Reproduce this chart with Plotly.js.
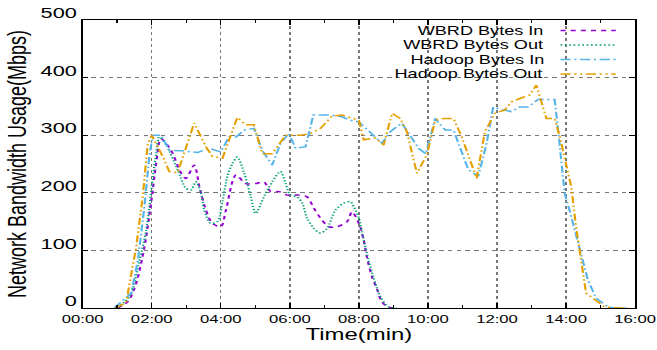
<!DOCTYPE html>
<html><head><meta charset="utf-8">
<script src="https://cdn.plot.ly/plotly-3.0.1.min.js"></script>
<style>
html,body{margin:0;padding:0;background:#fff;overflow:hidden;width:657px;height:350px}
#chart{width:460px;height:350px;transform:scaleX(1.45);transform-origin:0 0}
</style>
</head><body><div id="chart"></div>
<script>
const seriesNames = ["WBRD Bytes In", "WBRD Bytes Out", "Hadoop Bytes In", "Hadoop Bytes Out"];
const seriesColors = ["#9400d3", "#009e73", "#56b4e9", "#e69f00"];
const seriesDash = ["3.5px,3.5px", "1.2px,1.8px", "7px,2.5px,1.5px,2.5px", "7px,2.5px,1.5px,2.5px,1.5px,2.5px"];

const wbrdInT = [1.0, 1.31, 1.55, 1.79, 1.98, 2.13, 2.27, 2.56, 2.85, 2.99, 3.23, 3.38, 3.57, 3.76, 4.00, 4.15, 4.44, 4.72, 5.01, 5.25, 5.45, 5.69, 5.93, 6.26, 6.50, 6.70, 6.89, 7.13, 7.37, 7.66, 7.80, 8.00, 8.14, 8.23, 8.38, 8.52, 8.66, 8.86, 9.0];
const wbrdInV = [0, 11, 43, 106, 182, 251, 294, 274, 234, 225, 248, 211, 170, 147, 141, 170, 231, 216, 216, 219, 202, 202, 196, 196, 193, 173, 156, 141, 141, 150, 167, 147, 118, 89, 54, 34, 11, 1, 0];

const wbrdOutT = [1.0, 1.36, 1.65, 1.84, 2.03, 2.13, 2.22, 2.42, 2.75, 2.99, 3.14, 3.28, 3.42, 3.52, 3.71, 3.90, 4.05, 4.19, 4.34, 4.48, 4.68, 4.87, 5.01, 5.25, 5.49, 5.73, 5.88, 6.02, 6.21, 6.36, 6.50, 6.70, 6.89, 7.08, 7.32, 7.56, 7.75, 7.85, 8.00, 8.14, 8.28, 8.43, 8.62, 8.86, 9.10];
const wbrdOutV = [0, 20, 83, 135, 225, 268, 297, 283, 240, 208, 205, 219, 202, 170, 147, 150, 185, 228, 251, 262, 234, 193, 164, 193, 219, 237, 216, 196, 193, 182, 156, 138, 130, 138, 170, 182, 185, 176, 156, 118, 83, 52, 20, 2, 0];

const hadoopInT = [0.92, 1.41, 1.60, 1.79, 1.93, 2.03, 2.27, 2.51, 2.85, 3.33, 3.67, 4.00, 4.24, 4.44, 4.68, 4.96, 5.20, 5.49, 5.73, 5.97, 6.17, 6.46, 6.68, 7.18, 7.51, 7.75, 8.00, 8.38, 8.67, 8.91, 9.24, 9.48, 9.73, 9.94, 10.21, 10.50, 10.74, 11.17, 11.46, 11.70, 11.89, 12.17, 12.42, 12.66, 12.90, 13.19, 13.67, 13.77, 13.96, 14.10, 14.34, 14.63, 14.87, 15.21, 15.40, 15.8];
const hadoopInV = [0, 26, 83, 176, 263, 300, 300, 274, 273, 270, 277, 271, 297, 297, 309, 312, 274, 248, 286, 303, 277, 280, 335, 335, 332, 326, 323, 303, 286, 306, 321, 300, 277, 268, 329, 309, 309, 240, 229, 286, 349, 344, 341, 349, 349, 362, 362, 309, 199, 170, 112, 49, 17, 2, 0, 0];

const hadoopOutT = [0.95, 1.26, 1.55, 1.74, 1.88, 2.00, 2.32, 2.51, 2.75, 3.23, 3.57, 3.76, 4.05, 4.48, 4.72, 4.96, 5.20, 5.49, 5.88, 6.31, 6.60, 6.89, 7.22, 7.51, 8.00, 8.14, 8.48, 8.72, 8.96, 9.20, 9.39, 9.68, 9.97, 10.21, 10.45, 10.74, 10.98, 11.41, 11.65, 11.94, 12.23, 12.42, 12.95, 13.14, 13.43, 13.67, 13.82, 14.06, 14.15, 14.29, 14.44, 14.58, 14.78, 15.11, 15.50, 15.8];
const hadoopOutV = [0, 9, 106, 193, 283, 300, 263, 237, 235, 321, 280, 263, 260, 331, 318, 318, 268, 268, 300, 300, 303, 312, 333, 335, 326, 292, 295, 283, 338, 329, 306, 234, 266, 326, 329, 329, 297, 225, 306, 338, 344, 358, 370, 387, 329, 329, 297, 240, 211, 141, 78, 26, 17, 2, 0, 0];

const xTickVals = [0, 2, 4, 6, 8, 10, 12, 14, 16];
const xTickText = ["00:00", "02:00", "04:00", "06:00", "08:00", "10:00", "12:00", "14:00", "16:00"];
const yTickVals = [0, 100, 200, 300, 400, 500];

const xs = [wbrdInT, wbrdOutT, hadoopInT, hadoopOutT];
const ys = [wbrdInV, wbrdOutV, hadoopInV, hadoopOutV];
const shapesKind = ["spline", "spline", "linear", "linear"];

const FONT = "Liberation Sans, Arial, Helvetica, sans-serif";

const traces = seriesNames.map((n, i) => ({
  type: "scatter", mode: "lines", name: n, x: xs[i], y: ys[i],
  line: {color: seriesColors[i], width: 1.5, dash: seriesDash[i], shape: shapesKind[i], smoothing: 0.8},
  showlegend: false, hoverinfo: "skip"
}));

const shapes = [{type: "rect", xref: "paper", yref: "paper", x0: 0.48, x1: 0.99, y0: 0.78, y1: 1.0,
  fillcolor: "#fff", line: {width: 0}, layer: "between"}];
const annotations = [];
const rowY = [0.9635, 0.9132, 0.8628, 0.8125];
seriesNames.forEach((n, i) => {
  annotations.push({xref: "paper", yref: "paper", x: 0.84, y: rowY[i], xanchor: "right", yanchor: "middle",
    text: n, showarrow: false,
    font: {family: FONT, size: 12.5, color: "#000"}});
  shapes.push({type: "line", xref: "paper", yref: "paper", x0: 0.865, x1: 0.965, y0: rowY[i], y1: rowY[i],
    line: {color: seriesColors[i], width: 1.5, dash: seriesDash[i]}, layer: "above"});
});

const layout = {
  width: 460, height: 350,
  margin: {l: 57, r: 22, t: 20, b: 42},
  paper_bgcolor: "#fff", plot_bgcolor: "#fff",
  font: {family: FONT, color: "#000"},
  xaxis: {
    range: [0, 16], tickvals: xTickVals, ticktext: xTickText,
    tickfont: {family: FONT, size: 11.5, color: "#000"},
    ticks: "inside", ticklen: 5, tickcolor: "#000", tickwidth: 1,
    minor: {dtick: 1, ticks: "inside", ticklen: 3, tickcolor: "#000", showgrid: false},
    showline: true, linecolor: "#000", linewidth: 1, mirror: "ticks",
    showgrid: true, gridcolor: "#777", griddash: "dot", gridwidth: 1, zeroline: false,
    title: {text: "Time(min)", font: {family: FONT, size: 16.5, color: "#000"}, standoff: 4},
    fixedrange: true
  },
  yaxis: {
    range: [0, 500], tickvals: yTickVals,
    tickfont: {family: FONT, size: 15, color: "#000"},
    ticks: "inside", ticklen: 4, tickcolor: "#000", tickwidth: 1,
    ticklabelshift: -7,
    showline: true, linecolor: "#000", linewidth: 1, mirror: "ticks",
    showgrid: true, gridcolor: "#777", griddash: "dot", gridwidth: 1, zeroline: false,
    title: {text: "Network Bandwidth Usage(Mbps)", font: {family: FONT, size: 18, color: "#000"}, standoff: 4},
    fixedrange: true
  },
  shapes: shapes,
  annotations: annotations
};

Plotly.newPlot("chart", traces, layout, {staticPlot: true, displayModeBar: false});
</script></body></html>
